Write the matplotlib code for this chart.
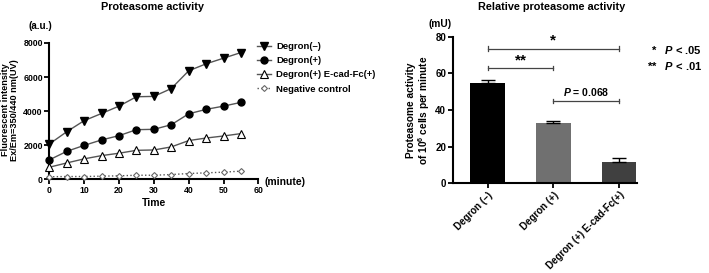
import matplotlib.pyplot as plt

plt.rcParams['font.family'] = ['Liberation Sans', 'DejaVu Sans']
plt.rcParams['font.weight'] = 'bold'
plt.rcParams['mathtext.fontset'] = 'custom'
plt.rcParams['mathtext.rm'] = 'Liberation Sans'
plt.rcParams['mathtext.bf'] = 'Liberation Sans:bold'
plt.rcParams['mathtext.it'] = 'Liberation Sans:italic:bold'
if 'mathtext.bfit' in plt.rcParams:
    plt.rcParams['mathtext.bfit'] = 'Liberation Sans:italic:bold'

# Time course data (left panel)
minutes = [0, 5, 10, 15, 20, 25, 30, 35, 40, 45, 50, 55]
degron_minus = [2080, 2800, 3450, 3870, 4300, 4850, 4870, 5330, 6370, 6780, 7110, 7440]
degron_plus = [1150, 1650, 2000, 2320, 2570, 2920, 2940, 3210, 3850, 4110, 4300, 4520]
degron_ecad = [720, 970, 1210, 1400, 1540, 1710, 1730, 1910, 2280, 2430, 2550, 2690]
negative = [160, 175, 175, 195, 215, 250, 250, 290, 350, 390, 430, 490]

# Bar data (right panel)
groups = ['Degron (\u2013)', 'Degron (+)', 'Degron (+) E-cad-Fc(+)']
activity = [54.6, 32.9, 11.4]
activity_err = [1.8, 1.0, 2.3]
bar_colors = ['#000000', '#707070', '#404040']

fig = plt.figure(figsize=(7.09, 2.73), dpi=100)

# ---- left: proteasome activity over time
ax1 = fig.add_axes([0.0696, 0.3425, 0.2948, 0.5])
lc = '#555555'
ax1.plot(minutes, degron_minus, color=lc, lw=1, marker='v', ms=5.5,
         mfc='black', mec='black', label='Degron(\u2013)', clip_on=False, zorder=3)
ax1.plot(minutes, degron_plus, color=lc, lw=1, marker='o', ms=5,
         mfc='black', mec='black', label='Degron(+)', clip_on=False, zorder=3)
ax1.plot(minutes, degron_ecad, color=lc, lw=1, marker='^', ms=5.5,
         mfc='white', mec='black', mew=0.8, label='Degron(+) E-cad-Fc(+)',
         clip_on=False, zorder=3)
ax1.plot(minutes, negative, color=lc, lw=1, ls=':', marker='D', ms=3,
         mfc='white', mec='#666666', mew=0.8, label='Negative control',
         clip_on=False, zorder=3)
ax1.set_xlim(0, 60)
ax1.set_ylim(0, 8000)
ax1.set_xticks(range(0, 61, 10))
ax1.set_yticks(range(0, 8001, 2000))
ax1.set_xlabel('Time', fontsize=7.5, fontweight='bold', labelpad=2)
fig.text(152 / 709, 1 - 7 / 273, 'Proteasome activity', ha='center', va='center',
         fontsize=7.8, fontweight='bold')
fig.text(10 / 709, 0.597, 'Fluorescent intensity\nEx/Em=350/440 nm(UV)',
         rotation=90, ha='center', va='center', fontsize=6.6, fontweight='bold',
         linespacing=1.1)
fig.text(40 / 709, 1 - 26 / 273, '(a.u.)', ha='center', va='center',
         fontsize=7, fontweight='bold')
ax1.text(1.03, -0.02, '(minute)', transform=ax1.transAxes, fontsize=7.5,
         fontweight='bold', ha='left', va='center')
fig.legend(*ax1.get_legend_handles_labels(), loc='upper left',
           bbox_to_anchor=(257 / 709, 1 - 42 / 273), frameon=False,
           fontsize=6.8, handlelength=1.5, handletextpad=0.5,
           labelspacing=0.55, borderaxespad=0, borderpad=0)

# ---- right: relative proteasome activity
ax2 = fig.add_axes([0.6385, 0.3286, 0.26, 0.537])
pos = range(len(groups))
ax2.bar(pos, activity, width=0.52, color=bar_colors, zorder=2)
ax2.errorbar(pos, activity, yerr=[[0] * 3, activity_err], fmt='none',
             ecolor='black', elinewidth=1, capsize=5, capthick=1, zorder=3)
ax2.set_xlim(-0.53, 2.27)
ax2.set_ylim(0, 80)
ax2.set_yticks(range(0, 81, 20))
ax2.set_xticks(list(pos))
ax2.set_xticklabels(groups, rotation=45, ha='right', rotation_mode='anchor',
                    fontsize=7.2)
fig.text(552 / 709, 1 - 7 / 273, 'Relative proteasome activity', ha='center',
         va='center', fontsize=7.8, fontweight='bold')
fig.text(419 / 709, 0.597, 'Proteasome activity\nof 10$^\\mathbf{6}$ cells per minute',
         rotation=90, ha='center', va='center', fontsize=7.3, fontweight='bold',
         linespacing=1.1)
fig.text(440 / 709, 1 - 24 / 273, '(mU)', ha='center', va='center',
         fontsize=7.3, fontweight='bold')

# significance brackets
brackets = [(0, 2, 73.5, '*'), (0, 1, 62.8, '**'), (1, 2, 44.8, '$\\mathit{P}$ = 0.068')]
for a, b, h, txt in brackets:
    ax2.plot([a, b], [h, h], color='#444444', lw=0.9, clip_on=False)
    for xx in (a, b):
        ax2.plot([xx, xx], [h - 1.2, h + 1.2], color='#444444', lw=0.9, clip_on=False)
    if '*' in txt:
        ax2.text((a + b) / 2, h + 0.5, txt, ha='center', va='bottom',
                 fontsize=11, fontweight='bold')
    else:
        ax2.text((a + b) / 2, h + 1.8, txt, ha='center', va='bottom',
                 fontsize=7.5, fontweight='bold')

fig.text(0.99, 1 - 50 / 273, '*   $\\mathit{P}$ < .05', ha='right',
         va='center', fontsize=8, fontweight='bold')
fig.text(0.99, 1 - 66 / 273, '**   $\\mathit{P}$ < .01', ha='right',
         va='center', fontsize=8, fontweight='bold')

for ax in (ax1, ax2):
    for s in ('top', 'right'):
        ax.spines[s].set_visible(False)
    for s in ('left', 'bottom'):
        ax.spines[s].set_linewidth(1.5)
    ax.tick_params(direction='out', width=1.3, length=3.5, labelsize=7, pad=1.2)
    for lab in ax.get_xticklabels() + ax.get_yticklabels():
        lab.set_fontweight('bold')
ax1.tick_params(labelsize=6.3)

fig.savefig('out.png', dpi=100)
